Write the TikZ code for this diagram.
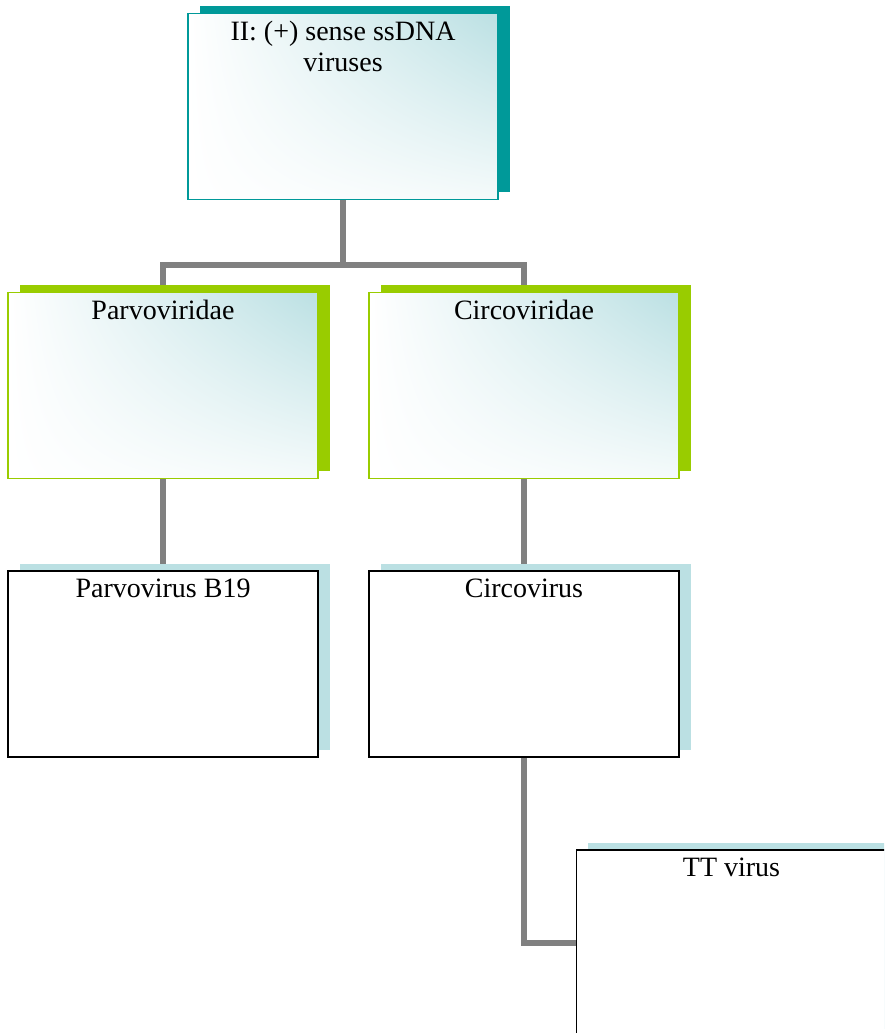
\documentclass[tikz,border=0pt]{standalone}
\usepackage{fontspec}
\setmainfont{Liberation Serif}
\usetikzlibrary{shadows, shadings, backgrounds}
\definecolor{classteal}{RGB}{0, 153, 153}
\definecolor{familygreen}{RGB}{153, 204, 0}
\definecolor{glassblue}{RGB}{187, 224, 227}
\definecolor{linkgray}{RGB}{128, 128, 128}

\tikzset{
  taxon/.style={minimum width=310pt, minimum height=186pt, inner sep=0pt, line width=1.3pt},
  glassfill/.style={shade, upper right=glassblue, upper left=white, lower left=white, lower right=glassblue!15},
  heading/.style 2 args={label={[anchor=base, label distance=#2, align=center, font=\fontsize{28}{31.5}\selectfont]90:#1}},
  classbox/.style={taxon, glassfill, draw=classteal, drop shadow={shadow xshift=11.5pt, shadow yshift=7.5pt, fill=classteal, opacity=1}},
  familybox/.style={taxon, glassfill, draw=familygreen, drop shadow={shadow xshift=11.5pt, shadow yshift=7.5pt, fill=familygreen, opacity=1}},
  speciesbox/.style={taxon, fill=white, draw=black, drop shadow={shadow xshift=11.5pt, shadow yshift=7.5pt, fill=glassblue, opacity=1}},
  link/.style={draw=linkgray, line width=5.5pt}
}

\begin{document}
\begin{tikzpicture}[x=1pt, y=-1pt]
  \useasboundingbox (0,0) rectangle (884,1033);
  \clip (0,0) rectangle (884,1033);

  % Class at the top
  \node[classbox, heading={II: (+) sense ssDNA\\viruses}{-59pt}] (ssdna) at (343, 106.5) {};

  % Families
  \node[familybox, heading={Parvoviridae}{-27.5pt}] (parvoviridae) at (163, 385.5) {};
  \node[familybox, heading={Circoviridae}{-27.5pt}] (circoviridae) at (524, 385.5) {};

  % Viruses
  \node[speciesbox, heading={Parvovirus B19}{-27.5pt}] (parvob19) at (163, 664) {};
  \node[speciesbox, heading={Circovirus}{-27.5pt}] (circovirus) at (524, 664) {};
  \node[speciesbox, heading={TT virus}{-27.5pt}] (ttvirus) at (731.5, 943) {};

  % Connectors behind the boxes
  \begin{scope}[on background layer]
    \coordinate (split) at (343, 265);
    \draw[link] (ssdna.south) -- (split);
    \draw[link] (split) -| (parvoviridae.north);
    \draw[link] (split) -| (circoviridae.north);
    \draw[link] (parvoviridae.south) -- (parvob19.north);
    \draw[link] (circoviridae.south) -- (circovirus.north);
    \draw[link] (circovirus.south) |- (ttvirus.west);
  \end{scope}
\end{tikzpicture}
\end{document}
